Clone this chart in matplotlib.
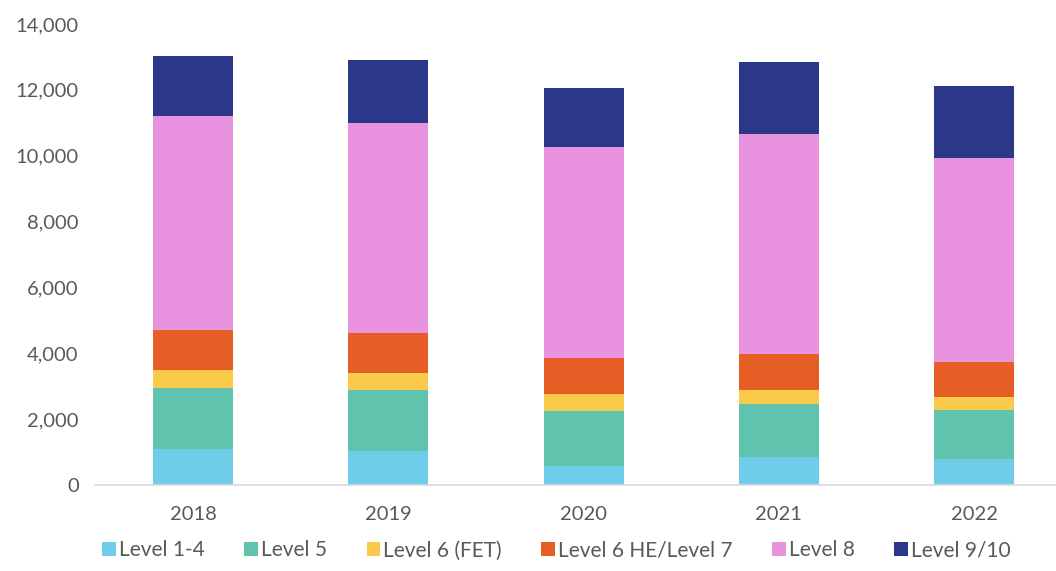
import matplotlib
matplotlib.use("Agg")
import matplotlib.pyplot as plt
import numpy as np

plt.rcParams['font.family'] = ['Lato', 'DejaVu Sans']

years = ["2018", "2019", "2020", "2021", "2022"]
series_names = ["Level 1-4", "Level 5", "Level 6 (FET)", "Level 6 HE/Level 7", "Level 8", "Level 9/10"]
level_1_4 = [1084, 1042, 587, 860, 800]
level_5 = [1862, 1843, 1670, 1590, 1478]
level_6_fet = [537, 507, 497, 425, 405]
level_6he_7 = [1215, 1224, 1112, 1103, 1062]
level_8 = [6508, 6377, 6389, 6690, 6176]
level_9_10 = [1831, 1904, 1801, 2187, 2196]
colors = ["#6FCDE9", "#60C3AE", "#FACB4A", "#E65E25", "#E892E0", "#2B3788"]

series = [level_1_4, level_5, level_6_fet, level_6he_7, level_8, level_9_10]

fig = plt.figure(figsize=(10.56, 5.71), dpi=100)
ax = fig.add_axes([95.4/1056, 86/571, (1056-95.4)/1056, (485-24)/571])

x = np.arange(len(years))
bottom = np.zeros(len(years))
handles = []
for name, vals, c in zip(series_names, series, colors):
    b = ax.bar(x, vals, width=0.41, bottom=bottom, color=c, label=name, linewidth=0)
    handles.append(b)
    bottom += np.array(vals)

ax.set_ylim(0, 14000)
ax.set_xlim(-0.5, (1056-193)/195.3)
ax.set_yticks(np.arange(0, 14001, 2000))
ax.set_yticklabels([f"{v:,}" for v in range(0, 14001, 2000)])
ax.set_xticks(x)
ax.set_xticklabels(years)

for s in ["top", "right", "left"]:
    ax.spines[s].set_visible(False)
ax.spines["bottom"].set_color("#D9D9D9")
ax.spines["bottom"].set_linewidth(1.2)
ax.tick_params(axis="y", length=0, pad=12, labelsize=14.5, labelcolor="#595959")
ax.tick_params(axis="x", length=0, pad=15, labelsize=14.5, labelcolor="#595959")

leg = fig.legend(handles=handles, labels=series_names, loc="lower left",
                 bbox_to_anchor=(94/1056, 0.004), ncol=6, frameon=False,
                 fontsize=15, handlelength=0.65, handleheight=0.65,
                 handletextpad=0.15, columnspacing=1.9, borderaxespad=0)
for t in leg.get_texts():
    t.set_color("#595959")

fig.savefig("out.png", dpi=100)
